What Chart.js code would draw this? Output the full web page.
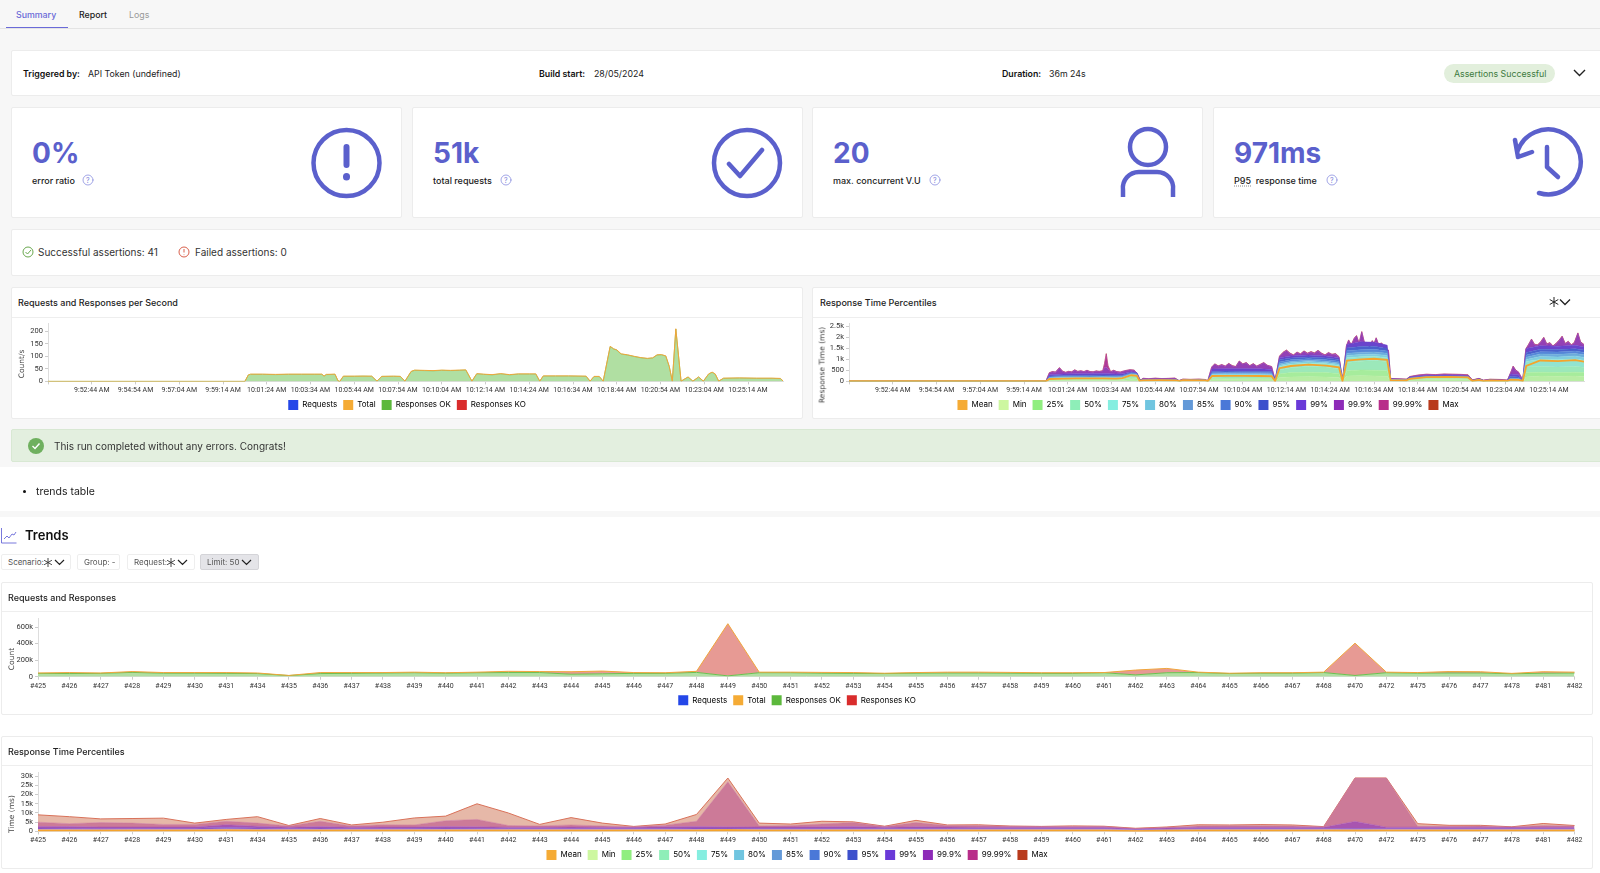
<!DOCTYPE html>
<html>
<head>
<meta charset="utf-8">
<title>Summary</title>
<script src="https://cdn.jsdelivr.net/npm/chart.js@4"></script>
<style>
    html, body { margin: 0; padding: 0; }
    body { width: 1600px; height: 873px; overflow: hidden; position: relative; background: #f7f7f7; font-family: Inter, sans-serif; color: #222; }
    .card { position: absolute; background: #fff; border: 1px solid #ececec; border-radius: 2px; box-sizing: border-box; }
    .t { position: absolute; white-space: nowrap; transform: translateY(-50%); font-size: 8.8px; }
    .b { font-weight: 600; color: #111; }
    .num { font-size: 28px; font-weight: 700; color: #5b60cc; }
    .lab { font-size: 9px; font-weight: 500; color: #222; }
    .title { font-size: 9px; font-weight: 500; color: #222; }
    .ytitle { position: absolute; white-space: nowrap; transform: translate(-50%, -50%) rotate(-90deg); font-family: 'DejaVu Sans'; font-size: 7.5px; color: #444; z-index: 2; }
    .btn { position: absolute; top: 554px; height: 16px; background: #fff; border: 1px solid #eee; border-radius: 2px; box-sizing: border-box; font-size: 8px; color: #555; line-height: 14px; padding-left: 6px; white-space: nowrap; }
    canvas { position: absolute; }
    svg { position: absolute; overflow: visible; }
</style>
</head>
<body>

<!-- tabs -->
<div class="t" style="left:16px;top:13.500px;color:#6a6ad8;font-weight:500">Summary</div>
<div class="t" style="left:79px;top:13.500px;font-weight:500">Report</div>
<div class="t" style="left:129px;top:13.500px;color:#999">Logs</div>
<div style="position:absolute;left:0;top:28px;width:1600px;height:1px;background:#e4e4e4"></div>
<div style="position:absolute;left:6px;top:27px;width:62px;height:1px;background:#6a6ad8"></div>

<!-- build info -->
<div class="card" style="left:11px;top:50px;width:1600px;height:46px"></div>
<div class="t b" style="left:23px;top:72.500px">Triggered by:</div>
<div class="t" style="left:88px;top:72.500px">API Token (undefined)</div>
<div class="t b" style="left:539px;top:72.500px">Build start:</div>
<div class="t" style="left:594px;top:72.500px">28/05/2024</div>
<div class="t b" style="left:1002px;top:72.500px">Duration:</div>
<div class="t" style="left:1049px;top:72.500px">36m 24s</div>
<div style="position:absolute;left:1444px;top:64px;width:111px;height:19px;border-radius:10px;background:#e2efdc"></div>
<div class="t" style="left:1454px;top:72.500px;color:#3c7a3c">Assertions Successful</div>
<svg style="left:0;top:0" width="1600" height="300"><path d="M1574 70l5.500 5.500 5.500-5.500M1574 249l5.500 5.500 5.500-5.500" fill="none" stroke="#222" stroke-width="1.400"/></svg>

<!-- stat cards -->
<div class="card" style="left:11px;top:107px;width:391px;height:111px"></div>
<div class="card" style="left:412px;top:107px;width:391px;height:111px"></div>
<div class="card" style="left:812px;top:107px;width:391px;height:111px"></div>
<div class="card" style="left:1213px;top:107px;width:391px;height:111px"></div>
<div class="t num" style="left:32px;top:153px">0%</div>
<div class="t num" style="left:433px;top:153px">51k</div>
<div class="t num" style="left:833px;top:153px">20</div>
<div class="t num" style="left:1234px;top:153px">971ms</div>
<div class="t lab" style="left:32px;top:180px">error ratio</div>
<div class="t lab" style="left:433px;top:180px">total requests</div>
<div class="t lab" style="left:833px;top:180px">max. concurrent V.U</div>
<div class="t lab" style="left:1234px;top:180px"><span style="border-bottom:1px dotted #888">P95</span>&nbsp; response time</div>
<svg style="left:0;top:0" width="1600" height="300" fill="none" stroke="#5b60cc" stroke-linecap="round" stroke-linejoin="round">
    <g stroke-width="4.500">
        <ellipse cx="346.500" cy="163" rx="33" ry="33"/>
        <path d="M346.500 147v18" stroke-width="6"/>
        <path d="M346.500 176.500v.5" stroke-width="7"/>
        <ellipse cx="747" cy="163" rx="33" ry="33"/>
        <path d="M729 164l11 12 22-26"/>
        <ellipse cx="1148" cy="147" rx="18" ry="18"/>
        <path d="M1123 197v-7a16 16 0 0 1 16-18h18a16 16 0 0 1 16 18v7" stroke-linecap="butt"/>
        <path d="M1518 150a32.500 32.500 0 1 1 21 43"/>
        <path d="M1515 140l3 17 14-5"/>
        <path d="M1547 147v20l11 10"/>
    </g>
    <g stroke="#8a8fe0" stroke-width="0.800">
        <circle cx="88" cy="180" r="5"/><circle cx="506" cy="180" r="5"/><circle cx="935" cy="180" r="5"/><circle cx="1332" cy="180" r="5"/>
    </g>
</svg>
<div class="t" style="left:86px;top:180px;font-size:7px;color:#7a7fd8">?</div>
<div class="t" style="left:504px;top:180px;font-size:7px;color:#7a7fd8">?</div>
<div class="t" style="left:933px;top:180px;font-size:7px;color:#7a7fd8">?</div>
<div class="t" style="left:1330px;top:180px;font-size:7px;color:#7a7fd8">?</div>

<!-- assertions -->
<div class="card" style="left:11px;top:229px;width:1600px;height:47px"></div>
<svg style="left:0;top:0" width="400" height="300" fill="none" stroke-width="1">
    <circle cx="28" cy="252" r="5" stroke="#6aa84f"/><path d="M25.500 252l2 2 3.500-4" stroke="#6aa84f"/>
    <circle cx="184" cy="252" r="5" stroke="#d9604c"/><path d="M184 249v3.500M184 254.500v.6" stroke="#d9604c"/>
</svg>
<div class="t" style="left:38px;top:251.500px;font-size:10px;color:#333">Successful assertions: 41</div>
<div class="t" style="left:195px;top:251.500px;font-size:10px;color:#333">Failed assertions: 0</div>

<!-- live charts -->
<div class="card" style="left:11px;top:287px;width:792px;height:132px">
    <div style="position:absolute;left:0;right:0;top:29px;height:1px;background:#eee"></div>
</div>
<div class="t title" style="left:18px;top:301.500px">Requests and Responses per Second</div>
<canvas id="rpsChart" width="790" height="105" style="left:12px;top:317px"></canvas>
<div class="ytitle" style="left:21px;top:364px">Count/s</div>

<div class="card" style="left:812px;top:287px;width:800px;height:132px">
    <div style="position:absolute;left:0;right:0;top:29px;height:1px;background:#eee"></div>
</div>
<div class="t title" style="left:820px;top:301.500px">Response Time Percentiles</div>
<svg style="left:0;top:0" width="1600" height="320" fill="none" stroke="#222" stroke-width="1"><path d="M1554 297v10M1549.700 299.500l8.600 5M1549.700 304.500l8.600-5"/><path d="M1560 299.500l5 5 5-5" stroke-width="1.300"/></svg>
<canvas id="percentilesChart" width="790" height="105" style="left:813px;top:317px"></canvas>
<div class="ytitle" style="left:821.500px;top:365px">Response Time (ms)</div>

<!-- banner -->
<div style="position:absolute;left:11px;top:429px;width:1600px;height:33px;background:#e3efdf;border:1px solid #d8e8d3;box-sizing:border-box;border-radius:2px"></div>
<svg style="left:0;top:0" width="100" height="470"><circle cx="36" cy="446" r="8" fill="#6fb05f"/><path d="M32.500 446l2.500 2.500 4.500-5" fill="none" stroke="#fff" stroke-width="1.400"/></svg>
<div class="t" style="left:54px;top:446px;font-size:10px;color:#333">This run completed without any errors. Congrats!</div>

<!-- notes + trends -->
<div style="position:absolute;left:0;top:467px;width:1600px;height:44px;background:#fff"></div>
<div style="position:absolute;left:0;top:517px;width:1600px;height:356px;background:#fff"></div>
<div style="position:absolute;left:23px;top:490px;width:3px;height:3px;background:#111;border-radius:2px"></div>
<div class="t" style="left:36px;top:491px;font-size:10.500px;color:#222">trends table</div>

<svg style="left:0;top:0" width="30" height="560" fill="none" stroke="#6a6ad8" stroke-width="0.900">
    <path d="M1.500 528v15h15"/><path d="M4 539l3-3 2 2 3-4 2 1 2-3"/>
</svg>
<div class="t" style="left:25px;top:535px;font-size:13px;font-weight:600;color:#111">Trends</div>
<div class="btn" style="left:1px;width:70px">Scenario:</div>
<div class="btn" style="left:77px;width:43px">Group: -</div>
<div class="btn" style="left:127px;width:68px">Request:</div>
<div class="btn" style="left:200px;width:59px;background:#e4e4e8;border-color:#d4d4d8">Limit: 50</div>
<svg style="left:0;top:0" width="300" height="580" fill="none" stroke="#333" stroke-width="0.900">
    <path d="M48 558v9M44.100 560.250l7.800 4.500M44.100 564.750l7.800-4.500M171 558v9M167.100 560.250l7.800 4.500M167.100 564.750l7.800-4.500"/>
    <path d="M55 560l4.500 4.500 4.500-4.500M178 560l4.500 4.500 4.500-4.500M242 560l4.500 4.500 4.500-4.500" stroke="#222" stroke-width="1.200"/>
</svg>

<div class="card" style="left:1px;top:582px;width:1592px;height:133px">
    <div style="position:absolute;left:0;right:0;top:28px;height:1px;background:#eee"></div>
</div>
<div class="t title" style="left:8px;top:596.500px">Requests and Responses</div>
<canvas id="trendRequestsChart" width="1590" height="107" style="left:2px;top:612px"></canvas>
<div class="ytitle" style="left:11px;top:659px">Count</div>

<div class="card" style="left:1px;top:736px;width:1592px;height:133px">
    <div style="position:absolute;left:0;right:0;top:28px;height:1px;background:#eee"></div>
</div>
<div class="t title" style="left:8px;top:750.500px">Response Time Percentiles</div>
<canvas id="trendPercentilesChart" width="1590" height="107" style="left:2px;top:766px"></canvas>
<div class="ytitle" style="left:11px;top:814px">Time (ms)</div>

<script>
Chart.defaults.font.family = 'Inter, sans-serif';
Chart.defaults.font.size = 7.5;
Chart.defaults.color = '#333';
Chart.defaults.animation = false;

// x of the live charts is in label steps, one step = 2m10s, step 0 = 9:50:34 AM
// [t, total, ok]
const rpsRows = [
    [0,0,0],[4.5,0,0],[4.58,26,26],[4.63,29,28],[4.9,29,28],[5.2,28,27],[5.5,29,28],[5.8,29,28],[6.1,29,28],[6.26,29,28],
    [6.31,21,21],[6.36,28,27],[6.56,29,28],[6.63,2,2],[6.67,0,0],[6.75,21,20],[7.0,21,20],[7.2,21,21],[7.4,21,20],[7.52,1,1],
    [7.63,20,20],[7.9,21,20],[8.05,20,20],[8.16,1,1],[8.3,40,39],[8.38,45,44],[8.6,44,43],[8.8,43,42],[9.0,45,44],[9.2,44,43],
    [9.4,45,44],[9.55,46,45],[9.69,1,1],[9.8,31,30],[9.95,29,28],[10.15,27,26],[10.35,31,30],[10.55,27,26],[10.75,30,29],[11.0,30,29],
    [11.15,30,29],[11.24,1,1],[11.32,22,21],[11.6,22,21],[11.9,22,21],[12.3,21,20],[12.39,1,1],[12.48,20,19],[12.6,20,19],[12.69,1,1],
    [12.85,140,139],[12.93,130,129],[13.0,126,125],[13.1,110,109],[13.25,106,105],[13.4,100,99],[13.55,95,94],[13.7,92,91],[13.82,94,93],[13.92,106,105],
    [14.02,107,106],[14.12,102,101],[14.2,60,59],[14.27,1,1],[14.35,210,209],[14.47,1,1],[14.63,18,17],[14.74,1,1],[14.87,18,17],[14.98,1,1],
    [15.1,30,29],[15.18,37,36],[15.25,30,29],[15.33,1,1],[15.44,13,12],[15.8,14,13],[16.2,13,12],[16.55,13,12],[16.74,12,11],[16.8,2,2]
];

const percentileLabels = ['Min', '25%', '50%', '75%', '80%', '85%', '90%', '95%', '99%', '99.9%', '99.99%', 'Max'];
const legendColors = ['#cdf7a0', '#90ee80', '#8eeeb8', '#85eee0', '#70c5e0', '#6399d8', '#4a78d8', '#3d50cc', '#6a3ad8', '#8e2bb8', '#b82e8a', '#b83a1c'];
const liveFills = ['#b8eda4', '#a6ec9c', '#9ce8ba', '#92e4d0', '#80cee0', '#6cacdc', '#5686d8', '#4a60cc', '#6a44cc', '#9440b4', '#b03a98', '#c04a38'];
const trendFills = ['#f4c888', '#f0c090', '#ecb894', '#e8b09c', '#d8a8b4', '#c49cc4', '#ac88d0', '#9070d0', '#8a50c8', '#a855b0', '#cc7a98', '#e6b8a8'];

// lower bands, [t, mean, min, 25, 50, 75, 80, 85, 90, 95, 99]
const liveBands = [
    [0,8,5,5,5,6,6,6,6,7,7],[4.5,8,5,5,5,6,6,6,6,7,7],[4.58,110,40,70,90,130,150,170,200,240,300],[4.9,130,40,80,110,150,175,200,230,270,340],
    [5.2,135,45,85,115,155,180,205,235,280,345],[5.5,140,45,85,115,155,180,205,240,285,350],[5.8,135,45,85,115,155,180,210,245,290,360],[6.1,130,45,80,110,150,175,200,235,275,335],
    [6.25,150,45,85,130,165,190,215,245,285,345],[6.45,280,80,150,260,300,320,340,370,400,440],[6.58,250,60,120,220,270,290,320,350,370,400],[6.64,30,10,15,20,25,30,35,40,60,70],
    [6.72,50,20,30,40,50,55,60,70,80,100],[7.1,55,20,30,42,52,58,65,72,85,105],[7.48,50,20,28,40,50,55,62,70,85,100],[7.56,15,8,10,12,15,18,20,22,25,30],
    [7.63,55,25,32,42,50,55,58,62,66,72],[8.14,50,25,32,42,50,55,58,62,66,70],[8.2,10,6,8,9,10,12,14,16,18,20],[8.3,245,80,130,190,280,310,350,390,450,560],
    [8.6,255,85,135,200,290,325,365,410,470,580],[9.0,250,80,130,195,285,320,360,405,465,580],[9.4,245,80,130,195,280,315,355,400,460,570],[9.66,235,75,125,190,270,305,345,390,445,540],
    [9.74,15,8,10,12,15,18,20,25,30,40],[9.84,600,180,340,520,680,740,800,880,980,1080],[10.1,700,200,400,620,780,850,910,980,1060,1160],[10.5,760,210,420,680,840,900,960,1030,1110,1200],
    [10.9,720,200,400,650,800,860,920,990,1070,1160],[11.2,640,180,350,560,720,780,840,920,1000,1080],[11.28,15,8,10,12,15,18,20,25,30,40],[11.38,950,240,480,860,1080,1180,1280,1400,1520,1680],
    [11.7,1000,260,520,920,1120,1220,1320,1440,1590,1800],[12.0,1030,250,510,950,1140,1240,1340,1460,1600,1780],[12.3,980,230,480,900,1080,1180,1280,1380,1500,1650],[12.38,60,20,30,45,60,70,80,90,100,120],
    [12.74,45,20,28,38,48,55,60,70,80,90],[12.82,120,50,70,90,115,125,140,155,175,200],[13.2,190,90,120,160,185,195,205,220,240,265],[13.7,210,100,130,170,195,205,215,230,250,275],
    [14.15,180,85,115,150,175,185,195,210,230,255],[14.25,20,8,10,14,18,22,26,30,40,50],[14.4,70,25,35,50,65,75,85,95,105,120],[14.5,15,8,10,14,18,20,24,30,35,40],
    [14.65,40,15,20,30,40,45,50,55,60,70],[14.9,30,12,16,22,28,32,36,40,45,55],[15.05,20,8,10,14,18,22,26,30,35,45],[15.12,80,30,45,60,85,100,120,160,230,340],
    [15.3,70,25,40,55,80,95,115,150,200,300],[15.4,20,8,10,14,18,22,26,30,35,45],[15.48,700,200,400,650,900,1000,1100,1200,1320,1500],[15.8,950,240,420,680,1000,1130,1250,1350,1460,1620],
    [16.2,920,230,400,650,980,1110,1230,1340,1450,1600],[16.6,970,240,420,680,1020,1160,1270,1380,1480,1640],[16.8,900,220,400,640,960,1090,1210,1320,1430,1570]
];

// top edge is spikier so it gets its own finer list, [t, 99.9, 99.99, max]
const liveTop = [
    [0,8,9,10],[4.5,8,9,10],[4.58,380,395,400],[4.65,430,445,450],[4.72,410,425,430],[4.81,610,625,630],[4.88,450,465,470],[4.95,400,415,420],[5.02,440,455,460],[5.09,420,435,440],
    [5.16,510,525,530],[5.23,440,455,460],[5.3,470,485,490],[5.37,430,445,450],[5.44,490,505,510],[5.51,430,445,450],[5.58,420,435,440],[5.65,460,475,480],[5.72,440,455,460],[5.8,470,485,490],
    [5.84,620,800,820],[5.88,640,1250,1270],[5.92,560,700,720],[5.98,430,445,450],[6.05,490,505,510],[6.12,430,445,450],[6.2,410,425,430],[6.3,470,485,490],[6.42,520,530,535],[6.52,500,510,515],
    [6.6,300,310,315],[6.66,40,50,55],[6.72,130,140,145],[6.85,110,120,125],[7.0,135,145,150],[7.15,115,125,130],[7.3,125,135,140],[7.45,140,150,155],[7.54,30,35,40],[7.63,95,100,105],
    [7.8,85,90,95],[8.0,95,100,105],[8.14,80,85,90],[8.2,25,28,30],[8.29,640,655,660],[8.36,780,795,800],[8.44,690,705,710],[8.52,750,765,770],[8.6,680,695,700],[8.68,800,815,820],
    [8.76,700,715,720],[8.84,660,675,680],[8.92,910,925,930],[9.0,780,795,800],[9.08,840,855,860],[9.16,700,715,720],[9.24,790,805,810],[9.32,680,695,700],[9.4,760,775,780],[9.48,840,855,860],
    [9.56,720,735,740],[9.66,660,675,680],[9.74,50,55,60],[9.84,1130,1145,1150],[9.92,1300,1320,1330],[10.0,1400,1420,1430],[10.08,1260,1280,1290],[10.16,1180,1200,1210],[10.24,1310,1330,1340],[10.32,1230,1250,1260],
    [10.4,1360,1380,1390],[10.48,1260,1280,1290],[10.56,1330,1350,1360],[10.64,1270,1290,1300],[10.72,1390,1410,1420],[10.8,1260,1280,1290],[10.88,1180,1200,1210],[10.96,1290,1310,1320],[11.04,1210,1230,1240],[11.12,1240,1260,1270],
    [11.2,1100,1120,1130],[11.28,50,60,65],[11.37,1600,1620,1630],[11.42,1860,1880,1890],[11.48,1640,1660,1670],[11.55,1950,1970,1980],[11.6,2060,2080,2090],[11.66,1720,1740,1750],[11.72,2240,2260,2270],[11.78,1750,1770,1780],
    [11.84,1700,1720,1730],[11.9,1550,1570,1580],[11.96,1830,1850,1860],[12.0,1700,1720,1730],[12.05,1960,1980,1990],[12.1,1680,1700,1710],[12.18,1720,1740,1750],[12.24,1450,1470,1480],[12.33,1400,1420,1430],[12.38,120,130,135],
    [12.74,90,100,105],[12.82,210,220,225],[13.0,270,285,290],[13.2,310,325,330],[13.4,290,305,310],[13.6,320,335,340],[13.8,310,325,330],[14.0,300,315,320],[14.15,280,295,300],[14.25,60,65,70],
    [14.4,130,135,140],[14.5,50,55,60],[14.65,90,95,100],[14.9,80,85,90],[15.05,50,55,60],[15.13,420,430,435],[15.18,670,690,700],[15.24,500,510,515],[15.3,420,430,435],[15.4,60,65,70],
    [15.47,1450,1470,1480],[15.53,1650,1670,1680],[15.6,1900,1920,1930],[15.67,1660,1680,1690],[15.74,1640,1660,1670],[15.81,1780,1800,1810],[15.88,1980,2000,2010],[15.95,1680,1700,1710],[16.02,1740,1760,1770],[16.09,1590,1610,1620],
    [16.16,1700,1720,1730],[16.23,1850,1870,1880],[16.3,2030,2050,2060],[16.37,1700,1720,1730],[16.44,1800,1820,1830],[16.51,1640,1660,1670],[16.58,1750,1770,1780],[16.66,2180,2200,2210],[16.72,1780,1800,1810],[16.8,1650,1670,1680]
];

// build, total requests, ok responses
const trendRequests = [
    ['#425',45,40],['#426',50,38],['#427',45,40],['#428',62,52],['#429',50,42],['#430',50,42],['#431',50,40],['#434',45,38],['#435',15,14],['#436',50,38],
    ['#437',50,40],['#438',50,44],['#439',55,48],['#440',48,42],['#441',55,48],['#442',65,50],['#443',62,50],['#444',60,30],['#445',68,35],['#446',50,40],
    ['#447',48,40],['#448',65,52],['#449',640,10],['#450',55,48],['#451',55,48],['#452',52,42],['#453',50,40],['#454',42,38],['#455',50,42],['#456',55,45],
    ['#457',55,45],['#458',52,42],['#459',48,40],['#460',48,40],['#461',50,48],['#462',80,22],['#463',100,48],['#464',55,50],['#465',42,38],['#466',48,42],
    ['#467',48,42],['#468',55,50],['#470',405,15],['#472',55,48],['#475',50,42],['#476',62,45],['#477',60,45],['#478',40,36],['#481',60,42],['#482',55,45]
];

// values in seconds: build, mean, min, 25, 50, 75, 80, 85, 90, 95, 99, 99.9, 99.99, max
const trendPercentiles = [
    ['#425',.5,.1,.3,.5,.7,.8,.9,1,1.2,1.8,2.7,5,9],['#426',.5,.1,.3,.5,.7,.8,.9,1,1.2,1.7,2.6,4.2,8],['#427',.45,.1,.3,.4,.6,.7,.8,.9,1.1,1.6,2.4,4.8,6.8],['#428',.5,.1,.3,.5,.7,.8,.9,1,1.2,1.6,2.4,4.5,7],
    ['#429',.5,.1,.3,.5,.7,.8,.9,1,1.2,1.7,2.4,3.8,7.2],['#430',.5,.1,.3,.5,.7,.8,.9,1,1.2,1.7,2.4,3.8,4.5],['#431',.6,.1,.4,.6,.8,.9,1,1.2,1.5,2.3,3.6,5.5,6.5],['#434',.5,.1,.3,.5,.7,.8,.9,1,1.3,1.9,2.8,4.5,8],
    ['#435',.5,.1,.3,.5,.7,.8,.9,1,1.2,1.6,2.3,3,3.2],['#436',.5,.1,.3,.5,.7,.8,.9,1,1.3,1.8,2.6,5.5,7],['#437',.5,.1,.3,.5,.7,.8,.9,1,1.2,1.6,2.3,3,3.5],['#438',.5,.1,.3,.5,.7,.8,.9,1,1.2,1.6,2.4,3.6,5],
    ['#439',.5,.1,.3,.5,.7,.8,.9,1,1.2,1.7,2.4,3.5,7.3],['#440',.5,.1,.3,.5,.7,.8,.9,1.1,1.3,1.8,2.6,5.8,8.3],['#441',.5,.1,.3,.5,.7,.8,.9,1,1.2,1.7,2.5,6.5,15],['#442',.5,.1,.3,.5,.7,.8,.9,1,1.2,1.6,2.3,3.2,10],
    ['#443',.5,.1,.3,.5,.7,.8,.9,1,1.2,1.6,2.3,3,3.8],['#444',.5,.1,.3,.5,.7,.8,.9,1,1.2,1.6,2.4,3.5,7.5],['#445',.5,.1,.3,.5,.7,.8,.9,1,1.2,1.6,2.3,3,4.5],['#446',.5,.1,.3,.5,.7,.8,.9,1,1.2,1.6,2.2,2.5,2.7],
    ['#447',.5,.1,.3,.5,.7,.8,.9,1,1.2,1.7,2.5,3.4,4],['#448',.5,.1,.3,.5,.7,.8,.9,1,1.2,1.8,2.6,5.5,9.2],['#449',.7,.1,.4,.6,.8,.9,1,1.1,1.3,1.8,2.5,27,29],['#450',.5,.1,.3,.5,.7,.8,.9,1,1.2,1.7,2.4,3,4.5],
    ['#451',.5,.1,.3,.5,.7,.8,.9,1,1.2,1.7,2.4,3.2,4],['#452',.5,.1,.3,.5,.7,.8,.9,1,1.2,1.7,2.5,4,5.5],['#453',.5,.1,.3,.5,.7,.8,.9,1,1.2,1.7,2.6,4.8,5.2],['#454',.5,.1,.3,.5,.7,.8,.9,1,1.2,1.6,2.3,2.7,2.8],
    ['#455',.5,.1,.3,.5,.7,.8,.9,1,1.2,1.7,2.5,4.8,6],['#456',.5,.1,.3,.5,.7,.8,.9,1,1.2,1.6,2.4,3.2,3.5],['#457',.5,.1,.3,.5,.7,.8,.9,1,1.2,1.6,2.3,3.2,3.6],['#458',.5,.1,.3,.5,.7,.8,.9,1,1.2,1.6,2.3,2.8,2.9],
    ['#459',.5,.1,.3,.5,.7,.8,.9,1,1.2,1.6,2.3,2.7,2.7],['#460',.5,.1,.3,.5,.7,.8,.9,1,1.2,1.6,2.3,2.7,3],['#461',.5,.1,.3,.5,.7,.8,.9,1,1.2,1.6,2.3,2.7,2.8],['#462',.2,.05,.1,.2,.4,.5,.6,.7,.8,1,1.3,1.5,1.7],
    ['#463',.4,.05,.2,.3,.5,.6,.7,.8,1,1.3,1.8,2.2,2.4],['#464',.5,.1,.3,.5,.7,.8,.9,1,1.2,1.6,2.3,3,3.6],['#465',.5,.1,.3,.5,.7,.8,.9,1,1.2,1.6,2.3,3.1,3.5],['#466',.5,.1,.3,.5,.7,.8,.9,1,1.2,1.6,2.3,3.1,3.7],
    ['#467',.5,.1,.3,.5,.7,.8,.9,1,1.2,1.6,2.3,3,3.5],['#468',.5,.1,.3,.5,.7,.8,.9,1,1.2,1.6,2.2,2.5,2.6],['#470',.4,.1,.2,.4,.6,.7,.8,.9,1.1,1.6,5.4,29,29],['#472',.5,.1,.3,.5,.7,.8,.9,1,1.2,1.6,2.3,29,29],
    ['#475',.5,.1,.3,.5,.7,.8,.9,1,1.2,1.6,2.3,2.8,4.2],['#476',.5,.1,.3,.5,.7,.8,.9,1,1.2,1.6,2.3,2.8,3.3],['#477',.5,.1,.3,.5,.7,.8,.9,1,1.2,1.6,2.3,2.9,3.3],['#478',.5,.1,.3,.5,.7,.8,.9,1,1.2,1.6,2.2,2.4,2.5],
    ['#481',.5,.1,.3,.5,.7,.8,.9,1,1.2,1.6,2.3,3.2,4.3],['#482',.5,.1,.3,.5,.7,.8,.9,1,1.2,1.6,2.3,2.9,3.2]
];

function kFormat(v) {
    return v === 0 ? '0' : v >= 1000 ? (v / 1000) + 'k' : String(v);
}

function stepToTime(step) {
    if (step === 0) return '';
    const secs = 9 * 3600 + 50 * 60 + 34 + step * 130;
    const h = Math.floor(secs / 3600);
    const m = Math.floor(secs / 60) % 60;
    const s = secs % 60;
    return `${h}:${String(m).padStart(2, '0')}:${String(s).padStart(2, '0')} AM`;
}

function makeChart(id, cfg) {
    const xTicks = { maxRotation: 0, minRotation: 0, autoSkip: false, padding: 2, color: '#333', font: { family: 'Roboto', size: 7 } };
    const xScale = cfg.live
        ? { type: 'linear', min: 0, max: 16.8, ticks: { ...xTicks, stepSize: 1, includeBounds: false, callback: stepToTime } }
        : { type: 'category', labels: cfg.labels, ticks: xTicks };
    xScale.grid = { drawOnChartArea: false, tickLength: 3, color: '#ccc' };
    xScale.border = { color: '#ddd' };
    // right gap goes on the scale, layout padding would pull the legend off centre
    xScale.afterFit = s => { s.height = cfg.xHeight; s.paddingRight = cfg.plotRight; };

    return new Chart(document.getElementById(id), {
        type: 'line',
        data: { labels: cfg.labels, datasets: cfg.datasets },
        options: {
            responsive: false,
            devicePixelRatio: 1,
            parsing: cfg.live ? false : undefined,
            layout: { padding: cfg.padding },
            elements: { point: { radius: 0 }, line: { tension: 0, borderWidth: 1 } },
            scales: {
                x: xScale,
                y: {
                    min: 0,
                    max: cfg.yMax,
                    stacked: !!cfg.stacked,
                    afterFit: s => { s.width = cfg.yWidth; },
                    // the step option rounds itself to fit max, so the labelled values are set here
                    afterBuildTicks: s => { s.ticks = cfg.yTicks.map(value => ({ value })); },
                    grid: { drawOnChartArea: false, tickLength: 3, color: '#ccc' },
                    border: { color: '#ddd' },
                    ticks: { autoSkip: false, padding: 2, color: '#333', font: { family: 'Roboto', size: 7.5 }, callback: kFormat }
                }
            },
            plugins: {
                tooltip: { enabled: false },
                legend: {
                    position: 'bottom',
                    labels: {
                        boxWidth: 10,
                        boxHeight: 10,
                        padding: 6,
                        color: '#333',
                        font: { size: 8 },
                        useBorderRadius: true,
                        borderRadius: 2,
                        generateLabels: chart => chart.data.datasets.map((ds, i) => ({
                            text: ds.label,
                            fillStyle: ds.legendColor,
                            strokeStyle: ds.legendColor,
                            lineWidth: 0,
                            datasetIndex: i
                        }))
                    }
                }
            }
        }
    });
}

function xy(rows, col) {
    return rows.map(r => ({ x: r[0], y: r[col] }));
}

// live: requests / responses
makeChart('rpsChart', {
    live: true,
    yMax: 231,
    yTicks: [0, 50, 100, 150, 200],
    yWidth: 36,
    xHeight: 12.600,
    plotRight: 19,
    padding: { top: 5, bottom: 2 },
    datasets: [
        { label: 'Requests', legendColor: '#2447e8', data: xy(rpsRows, 1), borderWidth: 0, borderColor: 'transparent', fill: false },
        { label: 'Total', legendColor: '#f5ab35', data: xy(rpsRows, 1), borderColor: '#f0a63c', fill: false },
        { label: 'Responses OK', legendColor: '#5cb83c', data: xy(rpsRows, 2), borderColor: '#8fd07a', backgroundColor: '#b0dfa2', fill: 'origin' },
        { label: 'Responses KO', legendColor: '#d92c2c', data: rpsRows.map(r => ({ x: r[0], y: r[1] - r[2] })), borderWidth: 0, borderColor: 'transparent', fill: false }
    ]
});

// live: percentiles, bands are filled to the previous line
const liveSets = [{ label: 'Mean', legendColor: '#f5ab35', data: xy(liveBands, 1), borderColor: '#f5a42c', borderWidth: 1.8, fill: false }];
percentileLabels.forEach((label, i) => {
    const data = i < 9 ? xy(liveBands, i + 2) : xy(liveTop, i - 8);
    liveSets.push({ label, legendColor: legendColors[i], data, borderColor: liveFills[i], borderWidth: 0.5, backgroundColor: liveFills[i], fill: i === 0 ? 'origin' : '-1' });
});
makeChart('percentilesChart', {
    live: true,
    yMax: 2634,
    yTicks: [0, 500, 1000, 1500, 2000, 2500],
    yWidth: 36,
    xHeight: 12.600,
    plotRight: 19,
    padding: { top: 5, bottom: 2 },
    datasets: liveSets
});

// trends: requests / responses, KO sits on top of OK
makeChart('trendRequestsChart', {
    labels: trendRequests.map(r => r[0]),
    stacked: true,
    yMax: 703000,
    yTicks: [0, 200000, 400000, 600000],
    yWidth: 36,
    xHeight: 12.600,
    plotRight: 17.500,
    padding: { top: 5.500, bottom: 3.700 },
    datasets: [
        { label: 'Requests', legendColor: '#2447e8', data: trendRequests.map(r => r[1] * 1000), stack: 'req', borderWidth: 0, borderColor: 'transparent', fill: false },
        { label: 'Total', legendColor: '#f5ab35', data: trendRequests.map(r => r[1] * 1000), stack: 'total', borderColor: '#f0a63c', fill: false },
        { label: 'Responses OK', legendColor: '#5cb83c', data: trendRequests.map(r => r[2] * 1000), stack: 'resp', borderColor: '#6cc050', backgroundColor: '#b0dfa2', fill: 'origin' },
        { label: 'Responses KO', legendColor: '#d92c2c', data: trendRequests.map(r => (r[1] - r[2]) * 1000), stack: 'resp', borderWidth: 0, borderColor: 'transparent', backgroundColor: '#e79a94', fill: '-1' }
    ]
});

// trends: percentiles
const trendSets = [{ label: 'Mean', legendColor: '#f5ab35', data: trendPercentiles.map(r => r[1] * 1000), borderColor: '#f5a42c', borderWidth: 1.6, fill: false }];
percentileLabels.forEach((label, i) => {
    trendSets.push({
        label,
        legendColor: legendColors[i],
        data: trendPercentiles.map(r => r[i + 2] * 1000),
        borderColor: i === 11 ? '#d9725a' : trendFills[i],
        borderWidth: i === 11 ? 1 : 0.5,
        backgroundColor: trendFills[i],
        fill: i === 0 ? 'origin' : '-1'
    });
});
makeChart('trendPercentilesChart', {
    labels: trendPercentiles.map(r => r[0]),
    yMax: 32000,
    yTicks: [0, 5000, 10000, 15000, 20000, 25000, 30000],
    yWidth: 36,
    xHeight: 12.600,
    plotRight: 17.500,
    padding: { top: 5.700, bottom: 3 },
    datasets: trendSets
});
</script>
</body>
</html>
